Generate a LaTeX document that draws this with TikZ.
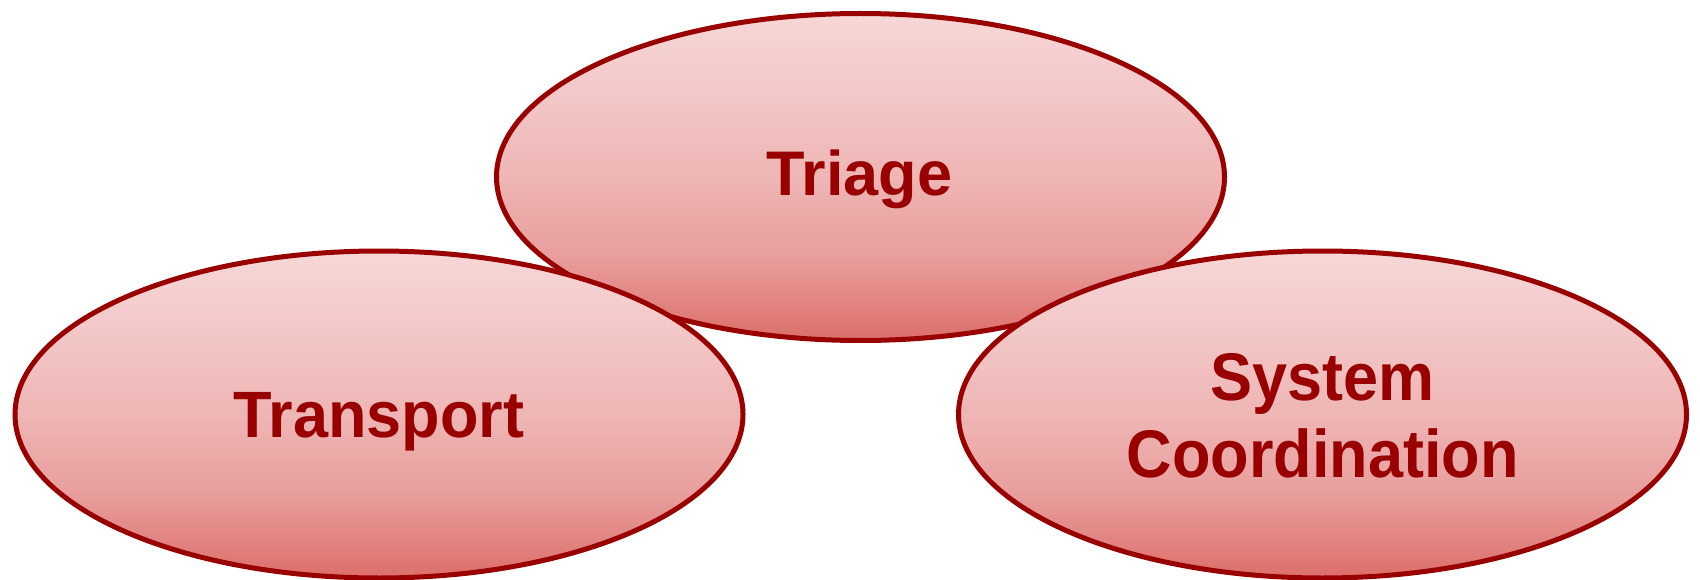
\documentclass[tikz,border=0pt]{standalone}
\usepackage{fontspec}
\setmainfont{Liberation Sans}
\usetikzlibrary{shapes.geometric}
\definecolor{dred}{HTML}{990000}
\definecolor{ftop}{HTML}{F7D7D7}
\definecolor{fq1}{HTML}{F3C7C7}
\definecolor{fmid}{HTML}{EEB6B5}
\definecolor{fq3}{HTML}{E89D9B}
\definecolor{fbot}{HTML}{DC6E6A}
\pgfdeclareverticalshading{ovalshade}{100bp}{color(0bp)=(fbot); color(25bp)=(fbot); color(37.5bp)=(fq3); color(50bp)=(fmid); color(62.5bp)=(fq1); color(75bp)=(ftop); color(100bp)=(ftop)}
\tikzset{
  oval/.style={ellipse, draw=dred, line width=5pt, shading=ovalshade,
    minimum width=728pt, minimum height=327pt, inner sep=0pt, outer sep=0pt},
  lbl/.style={anchor=base, inner sep=0pt, text=dred, font=\fontsize{63}{63}\selectfont\bfseries}
}
\begin{document}
\begin{tikzpicture}[x=1pt,y=-1pt]
\useasboundingbox (0,0) rectangle (1700,580);
\node[oval] (triage) at (860.5,177) {};
\node[oval] (transport) at (379,414.5) {};
\node[oval] (system) at (1322.5,414.5) {};
\node[lbl] (tTriage) at (859.5,195.7) {Triage};
\node[lbl] (tTransport) at (379,437) {\scalebox{1}[1.04]{Transport}};
\node[lbl] (tSystem) at (1322.5,400) {\scalebox{1}[1.07]{System}};
\node[lbl] (tCoord) at (1322.5,477) {\scalebox{1}[1.07]{Coordination}};
\end{tikzpicture}
\end{document}
